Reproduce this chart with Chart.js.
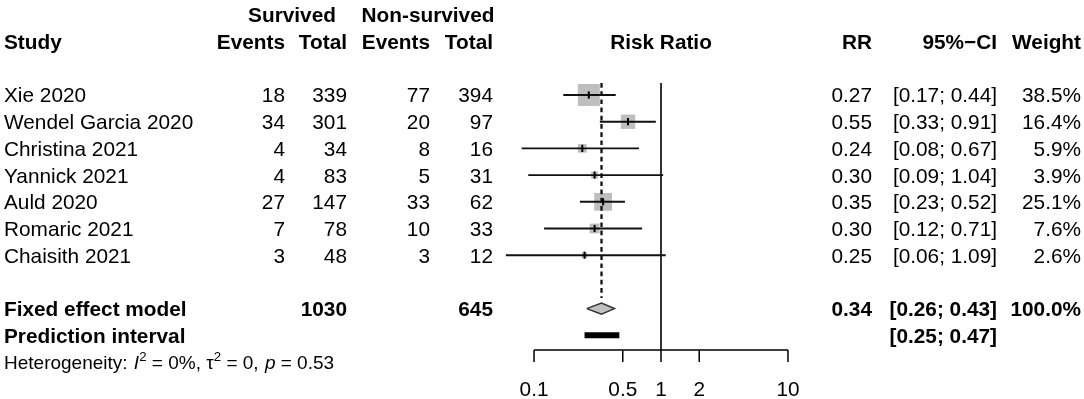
<!DOCTYPE html>
<html>
<head>
<meta charset="utf-8">
<script src="https://cdn.jsdelivr.net/npm/chart.js@4/dist/chart.umd.min.js"></script>
<style>
  body{margin:0;background:#fff;}
  canvas{display:block;}
</style>
</head>
<body>
<canvas id="forest" width="1084" height="399"></canvas>
<script>
// Study data
const studies = ['Xie 2020','Wendel Garcia 2020','Christina 2021','Yannick 2021','Auld 2020','Romaric 2021','Chaisith 2021'];
const survEvents = [18,34,4,4,27,7,3];
const survTotal = [339,301,34,83,147,78,48];
const nonEvents = [77,20,8,5,33,10,3];
const nonTotal = [394,97,16,31,62,33,12];
const rr = [0.27,0.55,0.24,0.30,0.35,0.30,0.25];
const ciLow = [0.17,0.33,0.08,0.09,0.23,0.12,0.06];
const ciHigh = [0.44,0.91,0.67,1.04,0.52,0.71,1.09];
const weight = [38.5,16.4,5.9,3.9,25.1,7.6,2.6];

// Pooled
const totalSurv = 1030;
const totalNon = 645;
const pooledRR = 0.34;
const pooledLow = 0.26;
const pooledHigh = 0.43;
const predLow = 0.25;
const predHigh = 0.47;
const hetI2 = '0%';
const hetTau2 = '0';
const hetP = '0.53';

const axisTicks = [0.1,0.5,1,2,10];

// row layout (y value = row index)
const studyRows = studies.map((s,i)=>i+1);
const fixedRow = 9, predRow = 10, hetRow = 11;

const FONT = '"Liberation Sans", Arial, sans-serif';
const FS = 20.8;

const fmt2 = v => v.toFixed(2);

// datasets
const ds = [];

// CI lines
studies.forEach((s,i)=>{
  ds.push({type:'line',data:[{x:ciLow[i],y:studyRows[i]},{x:ciHigh[i],y:studyRows[i]}],
    borderColor:'#111',borderWidth:1.9,pointRadius:0,clip:false,order:1});
});

// estimate ticks
ds.push({type:'scatter',data:studies.map((s,i)=>({x:rr[i],y:studyRows[i]})),
  pointStyle:'line',rotation:90,pointRadius:3.6,borderColor:'#000',borderWidth:2,clip:false,order:0});

// squares
ds.push({type:'scatter',data:studies.map((s,i)=>({x:rr[i],y:studyRows[i]})),
  pointStyle:'rect',pointRadius:weight.map(w=>3.55*Math.sqrt(w)/Math.SQRT2),
  backgroundColor:'#bebebe',borderWidth:0,clip:false,order:5});

// line of no effect
ds.push({type:'line',data:[{x:1,y:0.55},{x:1,y:10.55}],borderColor:'#333',borderWidth:2,pointRadius:0,clip:false,order:2});

// pooled dashed line
ds.push({type:'line',data:[{x:pooledRR,y:0.55},{x:pooledRR,y:8.6}],borderColor:'#111',borderWidth:2.3,borderDash:[4.7,3.5],pointRadius:0,clip:false,order:2});

// diamond
ds.push({type:'line',data:[{x:pooledLow,y:fixedRow},{x:pooledRR,y:fixedRow-0.21},{x:pooledHigh,y:fixedRow},{x:pooledRR,y:fixedRow+0.21},{x:pooledLow,y:fixedRow}],
  borderColor:'#333',borderWidth:1.5,backgroundColor:'#c0c0c0',fill:'shape',pointRadius:0,tension:0,clip:false,order:1});

// prediction interval
ds.push({type:'line',data:[{x:predLow,y:predRow},{x:predHigh,y:predRow}],borderColor:'#000',borderWidth:6,borderCapStyle:'butt',pointRadius:0,clip:false,order:1});

// text + axis
const tablePlugin = {
  id:'table',
  afterDraw(chart){
    const ctx = chart.ctx;
    const xs = chart.scales.x, ys = chart.scales.y;
    const Y = r => ys.getPixelForValue(r);
    function txt(s,x,row,align,bold,size){
      size = size || FS;
      ctx.font = (bold?'bold ':'') + size + 'px ' + FONT;
      ctx.textAlign = align;
      ctx.textBaseline = 'alphabetic';
      ctx.fillStyle = '#000';
      ctx.fillText(s,x,Y(row)+size*0.716/2);
    }
    ctx.save();
    // headers
    txt('Survived',292,-2,'center',true);
    txt('Non-survived',428,-2,'center',true);
    txt('Study',4,-1,'left',true);
    txt('Events',285,-1,'right',true);
    txt('Total',347,-1,'right',true);
    txt('Events',430,-1,'right',true);
    txt('Total',493,-1,'right',true);
    txt('Risk Ratio',661,-1,'center',true);
    txt('RR',872,-1,'right',true);
    txt('95%\u2212CI',997,-1,'right',true);
    txt('Weight',1081,-1,'right',true);
    // studies
    studies.forEach((s,i)=>{
      const r = studyRows[i];
      txt(s,4,r,'left',false);
      txt(String(survEvents[i]),285,r,'right',false);
      txt(String(survTotal[i]),347,r,'right',false);
      txt(String(nonEvents[i]),430,r,'right',false);
      txt(String(nonTotal[i]),493,r,'right',false);
      txt(fmt2(rr[i]),872,r,'right',false);
      txt('['+fmt2(ciLow[i])+'; '+fmt2(ciHigh[i])+']',997,r,'right',false);
      txt(weight[i].toFixed(1)+'%',1081,r,'right',false);
    });
    // pooled
    txt('Fixed effect model',4,fixedRow,'left',true);
    txt(String(totalSurv),347,fixedRow,'right',true);
    txt(String(totalNon),493,fixedRow,'right',true);
    txt(fmt2(pooledRR),872,fixedRow,'right',true);
    txt('['+fmt2(pooledLow)+'; '+fmt2(pooledHigh)+']',997,fixedRow,'right',true);
    txt('100.0%',1081,fixedRow,'right',true);
    txt('Prediction interval',4,predRow,'left',true);
    txt('['+fmt2(predLow)+'; '+fmt2(predHigh)+']',997,predRow,'right',true);

    // heterogeneity line with italics and superscripts
    const hs = 19.0;
    const base = Y(hetRow)+hs*0.716/2;
    let x = 4;
    const parts = [
      ['Heterogeneity: ','',0],
      ['I','italic ',0],
      ['2','',1],
      [' = '+hetI2+', \u03c4','',0],
      ['2','',1],
      [' = '+hetTau2+', ','',0],
      ['p','italic ',0],
      [' = '+hetP,'',0]
    ];
    ctx.textAlign='left';
    ctx.textBaseline='alphabetic';
    parts.forEach(([s,st,sup])=>{
      const size = sup ? hs*0.7 : hs;
      ctx.font = st + size + 'px ' + FONT;
      ctx.fillText(s,x+(st?1:0),sup ? base-hs*0.42 : base);
      x += ctx.measureText(s).width + (st?1:0);
    });

    // x axis
    const ay = Y(10.55), ty = Y(11.0);
    ctx.strokeStyle='#000';
    ctx.lineWidth=1.5;
    ctx.beginPath();
    ctx.moveTo(xs.getPixelForValue(axisTicks[0]),ay);
    ctx.lineTo(xs.getPixelForValue(axisTicks[axisTicks.length-1]),ay);
    axisTicks.forEach(t=>{
      const px = xs.getPixelForValue(t);
      ctx.moveTo(px,ay);
      ctx.lineTo(px,ty);
    });
    ctx.stroke();
    axisTicks.forEach(t=>txt(String(t),xs.getPixelForValue(t),12.0,'center',false));
    ctx.restore();
  }
};

new Chart(document.getElementById('forest'),{
  type:'scatter',
  data:{datasets:ds},
  options:{
    responsive:false,
    animation:false,
    events:[],
    layout:{autoPadding:false,padding:{left:495.8,right:257.8,top:0,bottom:0}},
    plugins:{legend:{display:false},tooltip:{enabled:false}},
    scales:{
      x:{type:'logarithmic',min:0.05,max:20,bounds:'data',display:false},
      y:{type:'linear',reverse:true,min:-2.558,max:12.386,bounds:'data',display:false}
    }
  },
  plugins:[tablePlugin]
});
</script>
</body>
</html>
